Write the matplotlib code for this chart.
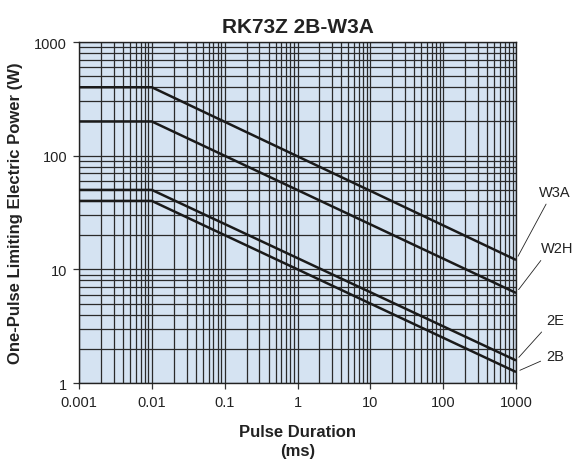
#!/usr/bin/env python3
"""One-pulse limiting power chart for RK73Z 2B-W3A."""

import matplotlib

matplotlib.use("Agg")
import matplotlib.pyplot as plt
from matplotlib.ticker import FixedLocator, LogLocator, NullFormatter

plt.rcParams["font.family"] = ["Liberation Sans", "DejaVu Sans"]

# Pulse duration (ms) at the break points
durations = [0.001, 0.01, 1000]

# One-pulse limiting power (W) for each size
power_w3a = [400, 400, 12.1]
power_w2h = [200, 200, 6.2]
power_2e = [50, 50, 1.58]
power_2b = [40, 40, 1.25]

# label, values, text offset (points), leader start on the text box
series = [
    ("W3A", power_w3a, (28, 49), (0.31, 0.0)),
    ("W2H", power_w2h, (29.5, 32), (0.12, 0.0)),
    ("2E", power_2e, (28, 29), (0.0, 0.0)),
    ("2B", power_2b, (28, 11.5), (0.0, 0.3)),
]

x_ticks = [0.001, 0.01, 0.1, 1, 10, 100, 1000]
x_tick_labels = ["0.001", "0.01", "0.1", "1", "10", "100", "1000"]
y_ticks = [1, 10, 100, 1000]
y_tick_labels = ["1", "10", "100", "1000"]

fig = plt.figure(figsize=(5.74, 4.64), dpi=100)
ax = fig.add_axes([0.1376, 0.1724, 0.7614, 0.7349])
ax.set_facecolor("#d5e3f2")

ax.set_xscale("log")
ax.set_yscale("log")
ax.set_xlim(0.001, 1000)
ax.set_ylim(1, 1000)

ax.xaxis.set_major_locator(FixedLocator(x_ticks))
ax.set_xticklabels(x_tick_labels)
ax.yaxis.set_major_locator(FixedLocator(y_ticks))
ax.set_yticklabels(y_tick_labels)
ax.xaxis.set_minor_locator(LogLocator(base=10, subs=range(2, 10)))
ax.yaxis.set_minor_locator(LogLocator(base=10, subs=range(2, 10)))
ax.xaxis.set_minor_formatter(NullFormatter())
ax.yaxis.set_minor_formatter(NullFormatter())

ax.grid(True, which="both", color="#2a2a2a", linewidth=0.9)
ax.set_axisbelow(True)
ax.tick_params(which="major", direction="out", length=4, width=0.9,
               labelsize=10.5, pad=4.5, color="#333333", labelcolor="#222222")
ax.tick_params(which="minor", length=0)
for spine in ax.spines.values():
    spine.set_color("#222222")
    spine.set_linewidth(1.0)

for label, values, offset, relpos in series:
    ax.plot(durations, values, color="#1a1a1a", linewidth=1.8,
            solid_capstyle="butt", zorder=3)
    ax.annotate(
        label,
        xy=(durations[-1], values[-1]),
        xytext=offset,
        textcoords="offset points",
        ha="center",
        va="center",
        fontsize=10.5,
        color="#222222",
        annotation_clip=False,
        arrowprops=dict(arrowstyle="-", linewidth=0.6, color="#222222",
                        relpos=relpos, shrinkA=2, shrinkB=3),
    )

ax.set_title("RK73Z 2B-W3A", fontsize=15, fontweight="bold", pad=7.5,
             color="#222222")
ax.set_xlabel("Pulse Duration\n(ms)", fontsize=12, fontweight="bold",
              labelpad=11, linespacing=1.3, color="#222222")
ax.set_ylabel("One-Pulse Limiting Electric Power (W)", fontsize=12,
              fontweight="bold", labelpad=8, color="#222222")

fig.savefig("out.png", dpi=100)
